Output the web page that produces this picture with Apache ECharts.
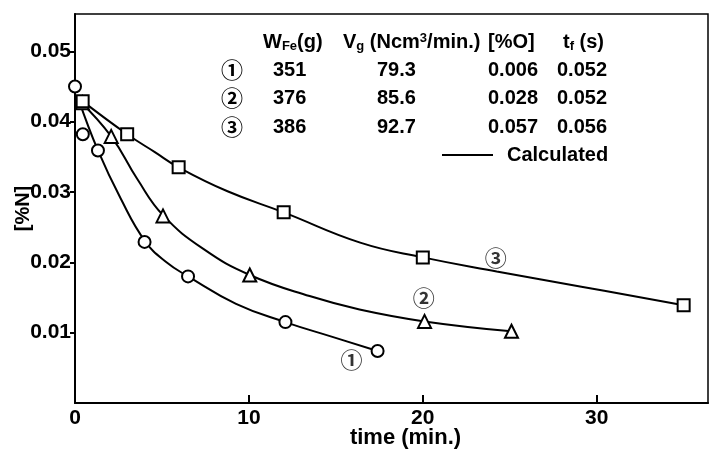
<!DOCTYPE html>
<html><head><meta charset="utf-8">
<script src="https://cdn.jsdelivr.net/npm/echarts@6/dist/echarts.min.js"></script>
<style>html,body{margin:0;padding:0;background:#fff}#c{width:710px;height:452px}</style>
</head><body><div id="c"></div>
<script>
// observed points (time min, [%N])
const obs1 = [[0,0.0450],[0.45,0.0382],[1.32,0.0359],[4.0,0.0229],[6.5,0.0180],[12.1,0.0115],[17.4,0.0074]];
const obs2 = [[0.42,0.0427],[2.08,0.0379],[5.06,0.0266],[10.05,0.0182],[20.1,0.0116],[25.1,0.0102]];
const obs3 = [[0.44,0.0429],[3.0,0.0382],[5.96,0.0335],[12.0,0.0271],[20.0,0.0207],[35.0,0.0139]];
// calculated curves
const calc1 = [[0.2,0.0432],[1.32,0.0359],[2.62,0.0291],[4.03,0.0230],[5.26,0.0200],[6.5,0.0180],[9.26,0.0141],[12.09,0.0115],[14.8,0.0094],[17.4,0.0074]];
const calc2 = [[0.28,0.0429],[2.08,0.0379],[3.59,0.0318],[5.06,0.0267],[7.38,0.0219],[10.05,0.0182],[13.49,0.0152],[16.36,0.0133],[20.1,0.0116],[25.08,0.0102]];
const calc3 = [[0.28,0.0432],[3.0,0.0382],[4.57,0.0357],[5.96,0.0335],[8.77,0.0301],[12.0,0.0271],[16.4,0.0228],[20.0,0.0207],[24.25,0.0187],[29.2,0.0165],[35.0,0.0139]];
// curve tags
const tagNames = ['①','②','③'];
const tagPos = [[15.9,0.0061],[20.05,0.0150],[24.2,0.0207]];
// axis ticks
const xTicks = [0,10,20,30];
const yTicks = [0.01,0.02,0.03,0.04,0.05];
// condition table
const tableW = ['351','376','386'];
const tableVg = ['79.3','85.6','92.7'];
const tableO = ['0.006','0.028','0.057'];
const tableTf = ['0.052','0.052','0.056'];

const FONT = '"Liberation Sans", Arial, sans-serif';
const CJK = '"Noto Sans CJK JP", "DejaVu Sans", sans-serif';

const chart = echarts.init(document.getElementById('c'), null, {renderer:'canvas'});

const markerStyle = {color:'#fff', borderColor:'#000', borderWidth:2, opacity:1};
function obsSeries(data, symbol, size){
  return {type:'scatter', data, symbol, symbolSize:size, itemStyle:markerStyle, z:5, silent:true};
}
function calcSeries(data){
  return {type:'line', data, smooth:0.45, symbol:'none',
    lineStyle:{color:'#000', width:2}, z:3, silent:true};
}

const baseText = {fontFamily:FONT, fontSize:20, fontWeight:'bold', fill:'#000', verticalAlign:'middle'};
const graphics = [];
function txt(x,y,text,extra){
  graphics.push({type:'text', x, y, z:10, style:Object.assign({}, baseText, {text}, extra||{})});
}
const rich = {
  a:{fontFamily:FONT, fontSize:20, fontWeight:'bold', fill:'#000'},
  s:{fontFamily:FONT, fontSize:13, fontWeight:'bold', fill:'#000', padding:[8,0,0,0]},
  p:{fontFamily:FONT, fontSize:13, fontWeight:'bold', fill:'#000', padding:[0,0,8,0]}
};
txt(263,42,'{a|W}{s|Fe}{a|(g)}',{rich});
txt(343,42,'{a|V}{s|g}{a| (Ncm}{p|3}{a|/min.)}',{rich});
txt(488,42,'[%O]');
txt(563,42,'{a|t}{s|f}{a| (s)}',{rich});
const rowY = [70,98,127];
for(let i=0;i<3;i++){
  txt(232,rowY[i],tagNames[i],{fontFamily:CJK, fontSize:22, align:'center'});
  txt(273,rowY[i],tableW[i]);
  txt(377,rowY[i],tableVg[i]);
  txt(488,rowY[i],tableO[i]);
  txt(557,rowY[i],tableTf[i]);
}
graphics.push({type:'line', z:10, shape:{x1:442,y1:155,x2:493,y2:155}, style:{stroke:'#000', lineWidth:2}});
txt(507,155,'Calculated');

chart.setOption({
  animation:false,
  backgroundColor:'#fff',
  grid:{left:75, right:2, top:14, bottom:49, outerBoundsMode:'none', containLabel:false,
    show:true, borderColor:'#000', borderWidth:1.5},
  xAxis:{type:'value', min:0, max:36.4,
    name:'time (min.)', nameLocation:'middle', nameGap:24, nameMoveOverlap:false,
    nameTextStyle:{fontFamily:FONT, fontSize:22, fontWeight:'bold', color:'#000', padding:[0,0,0,28]},
    axisLine:{show:true, lineStyle:{color:'#000', width:2}},
    axisTick:{show:true, inside:true, length:8, lineStyle:{color:'#000', width:2}, customValues:xTicks},
    axisLabel:{fontFamily:FONT, fontSize:21, fontWeight:'bold', color:'#000', margin:5, customValues:xTicks, formatter:v=>String(v)},
    splitLine:{show:false}},
  yAxis:{type:'value', min:0, max:0.0553,
    name:'[%N]', nameLocation:'middle', nameGap:42, nameRotate:90, nameMoveOverlap:false,
    nameTextStyle:{fontFamily:FONT, fontSize:20, fontWeight:'bold', color:'#000'},
    axisLine:{show:true, lineStyle:{color:'#000', width:2}},
    axisTick:{show:true, inside:false, length:5, lineStyle:{color:'#000', width:2}, customValues:yTicks},
    axisLabel:{fontFamily:FONT, fontSize:21, fontWeight:'bold', color:'#000', margin:4, customValues:yTicks, formatter:v=>v.toFixed(2)},
    splitLine:{show:false}},
  series:[
    calcSeries(calc1), calcSeries(calc2), calcSeries(calc3),
    obsSeries(obs1,'circle',12), obsSeries(obs2,'triangle',13), obsSeries(obs3,'rect',12),
    {type:'scatter', data:tagPos.map((p,i)=>({value:p, name:tagNames[i]})), symbolSize:0, silent:true, z:6,
      label:{show:true, position:'inside', formatter:p=>p.name, fontFamily:CJK, fontSize:22, fontWeight:'bold', color:'#000'}}
  ],
  graphic:graphics
});
</script></body></html>
